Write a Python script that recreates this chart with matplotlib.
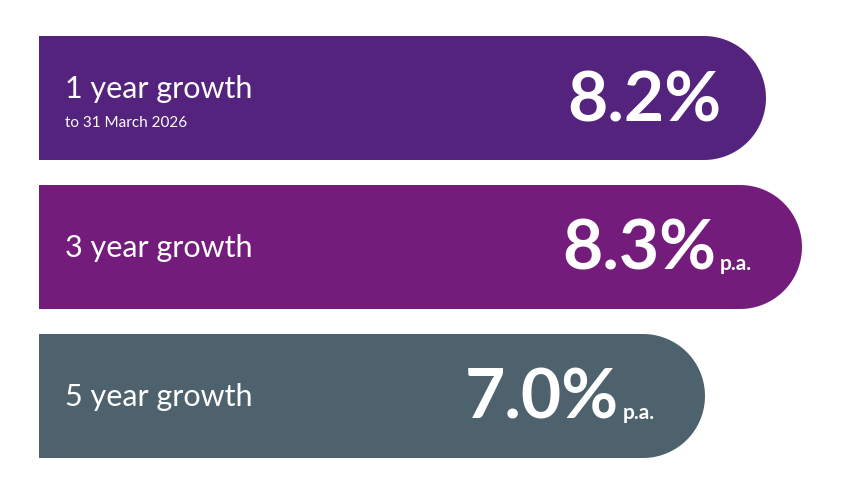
import numpy as np
import matplotlib.pyplot as plt
from matplotlib.patches import Polygon

labels = ["1 year growth", "3 year growth", "5 year growth"]
sublabels = ["to 31 March 2026", "", ""]
values = ["8.2%", "8.3%", "7.0%"]
suffixes = ["", "p.a.", "p.a."]
bar_ends = [766, 802, 705]
colors = ["#54237e", "#741c7b", "#4e626d"]

fig = plt.figure(figsize=(8.53, 5.02), dpi=100)
ax = fig.add_axes([0, 0, 1, 1])
ax.set_xlim(0, 853)
ax.set_ylim(502, 0)
ax.axis("off")

x0, h, gap, top = 39, 124, 25, 37
for i, (lab, sub, val, suf, end, c) in enumerate(
        zip(labels, sublabels, values, suffixes, bar_ends, colors)):
    y0 = top + i * (h + gap)
    r = h / 2
    cx = end - r
    t = np.linspace(-np.pi / 2, np.pi / 2, 60)
    arc = np.column_stack([cx + r * np.cos(t), y0 + r + r * np.sin(t)])
    pts = np.vstack([[x0, y0], arc[::-1] * 0 + arc[::-1], [x0, y0 + h]])
    pts = np.vstack([[x0, y0], [cx, y0], arc[::-1][::-1] if False else arc[::-1], [x0, y0 + h]])
    # arc goes from bottom? sin(-pi/2) -> top in inverted axis
    pts = np.vstack([[x0, y0 + h], [x0, y0], arc, [x0, y0 + h]])
    ax.add_patch(Polygon(pts, closed=True, color=c, lw=0))
    ymid = y0 + r
    if sub:
        ax.text(65, ymid - 10, lab, color="white", fontsize=22, family="Lato",
                va="center", ha="left")
        ax.text(65, ymid + 24, sub, color="white", fontsize=11, family="Lato",
                va="center", ha="left")
    else:
        ax.text(65, ymid, lab, color="white", fontsize=22, family="Lato",
                va="center", ha="left")
    if suf:
        vx = end - 86
        ax.text(vx + 4, ymid + 22, suf, color="white", fontsize=15, family="Lato",
                weight="bold", va="baseline", ha="left")
    else:
        vx = end - 45
    ax.text(vx, ymid + 22, val, color="white", fontsize=50, family="Lato",
            weight="bold", va="baseline", ha="right")

fig.savefig("out.png", dpi=100)
